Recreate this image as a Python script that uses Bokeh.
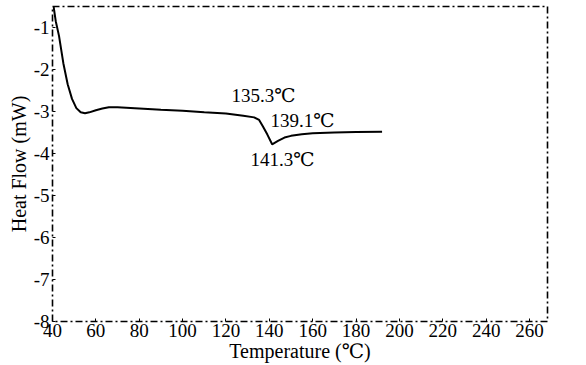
from bokeh.plotting import figure
from bokeh.models import ColumnDataSource, Label, FixedTicker
from bokeh.embed import file_html
from bokeh.resources import INLINE
from bokeh.core.properties import value

# DSC heating curve
temperature = [40.5, 41.5, 43, 45, 47, 49, 51, 53, 55, 57, 60, 63, 66, 70, 80, 90,
               100, 110, 120, 128, 133, 135.3, 137, 139.1, 141.3, 144, 147, 150,
               155, 160, 170, 180, 192]
heat_flow = [-0.5, -0.85, -1.2, -1.85, -2.35, -2.7, -2.92, -3.02, -3.04, -3.02,
             -2.97, -2.93, -2.9, -2.9, -2.93, -2.96, -2.98, -3.02, -3.05, -3.1,
             -3.14, -3.2, -3.35, -3.55, -3.78, -3.7, -3.62, -3.58, -3.54, -3.52,
             -3.5, -3.49, -3.48]

# marked transition temperatures and where their labels sit
peak_labels = ["135.3℃", "139.1℃", "141.3℃"]
peak_label_x = [137.3, 155.3, 146.1]
peak_label_y = [-2.62, -3.21, -4.14]

x_ticks = [40, 60, 80, 100, 120, 140, 160, 180, 200, 220, 240, 260]
y_ticks = [-1, -2, -3, -4, -5, -6, -7, -8]

SERIF = "'Liberation Serif', 'DejaVu Serif', serif"

p = figure(width=586, height=365, output_backend="svg", toolbar_location=None,
           x_range=(40, 268.3), y_range=(-8, -0.5),
           min_border_left=52, min_border_right=39, min_border_top=6,
           min_border_bottom=44)
p.background_fill_color = "white"
p.border_fill_color = "white"
p.grid.visible = False

p.outline_line_color = "black"
p.outline_line_width = 1.6
p.outline_line_dash = "7 3 2 3"

for ax in (p.xaxis[0], p.yaxis[0]):
    ax.axis_line_color = None
    ax.major_tick_in = 3
    ax.major_tick_out = 0
    ax.minor_tick_line_color = None
    ax.major_tick_line_color = "black"
    ax.major_label_text_font = SERIF
    ax.major_label_text_font_size = "19px"
    ax.major_label_text_color = "black"
    ax.axis_label_text_font = SERIF
    ax.axis_label_text_font_size = "20px"
    ax.axis_label_text_font_style = "normal"
    ax.axis_label_text_color = "black"

p.xaxis.ticker = FixedTicker(ticks=x_ticks)
p.yaxis.ticker = FixedTicker(ticks=y_ticks)
p.yaxis.major_label_overrides = {t: "-%d" % -t for t in y_ticks}
p.xaxis.axis_label = "Temperature (℃)"
p.yaxis.axis_label = "Heat Flow (mW)"
p.xaxis.major_label_standoff = 2
p.xaxis.axis_label_standoff = 0
p.yaxis.major_label_standoff = 3
p.yaxis.axis_label_standoff = 1

src = ColumnDataSource(dict(t=temperature, q=heat_flow))
p.line("t", "q", source=src, line_color="black", line_width=2)

lab_src = ColumnDataSource(dict(x=peak_label_x, y=peak_label_y, txt=peak_labels))
p.text("x", "y", text="txt", source=lab_src, text_font=value(SERIF),
       text_font_size="19px", text_align="center", text_baseline="middle",
       text_color="black")

# small figure code at the lower right corner
p.add_layout(Label(x=271.5, y=-8.6, text="oso", text_font=SERIF,
                   text_font_size="10px", text_color="black",
                   level="overlay"))

open("out.html", "w").write(file_html(p, INLINE))
